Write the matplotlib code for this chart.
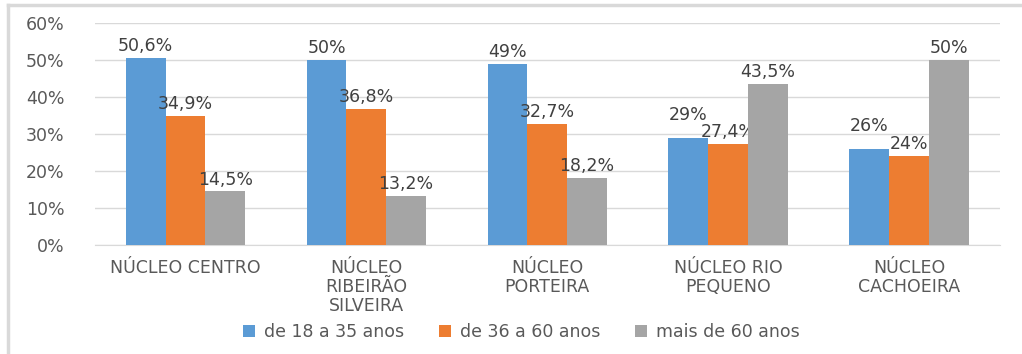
import matplotlib.pyplot as plt
from matplotlib.lines import Line2D
import numpy as np

# dados por núcleo e faixa etária (%)
nucleos = ['NÚCLEO CENTRO', 'NÚCLEO\nRIBEIRÃO\nSILVEIRA', 'NÚCLEO\nPORTEIRA',
           'NÚCLEO RIO\nPEQUENO', 'NÚCLEO\nCACHOEIRA']
faixa_18_35 = [50.6, 50, 49, 29, 26]
faixa_36_60 = [34.9, 36.8, 32.7, 27.4, 24]
faixa_60_mais = [14.5, 13.2, 18.2, 43.5, 50]
rotulos_18_35 = ['50,6%', '50%', '49%', '29%', '26%']
rotulos_36_60 = ['34,9%', '36,8%', '32,7%', '27,4%', '24%']
rotulos_60_mais = ['14,5%', '13,2%', '18,2%', '43,5%', '50%']
legendas = ['de 18 a 35 anos', 'de 36 a 60 anos', 'mais de 60 anos']

cores = ['#5B9BD5', '#ED7D31', '#A5A5A5']
cor_texto = '#595959'
fs = 12.5

plt.rcParams['font.family'] = 'DejaVu Sans'

fig = plt.figure(figsize=(10.22, 3.54), dpi=100)
ax = fig.add_axes([0.093, 0.308, 0.885, 0.627])

x = np.arange(len(nucleos))
w = 0.22
series = [faixa_18_35, faixa_36_60, faixa_60_mais]
rotulos = [rotulos_18_35, rotulos_36_60, rotulos_60_mais]
for i, (vals, labs) in enumerate(zip(series, rotulos)):
    pos = x + (i - 1) * w
    ax.bar(pos, vals, width=w, color=cores[i], label=legendas[i], zorder=3)
    for j, (px, v, t) in enumerate(zip(pos, vals, labs)):
        dy = 2
        # sobe o rótulo azul quando encosta no laranja ao lado
        if i == 0 and v - faixa_36_60[j] < 5:
            dy = 10
        ax.annotate(t, (px, v), xytext=(0, dy), textcoords='offset points',
                    ha='center', va='bottom', fontsize=fs, color='#404040')

ax.set_xlim(-0.5, 4.5)
ax.set_ylim(0, 60)
ax.set_yticks(range(0, 61, 10))
ax.set_yticklabels([f'{v}%' for v in range(0, 61, 10)])
ax.set_xticks(x)
ax.set_xticklabels(nucleos, linespacing=1.07)
ax.tick_params(axis='y', length=0, pad=22, labelsize=fs, labelcolor=cor_texto)
ax.tick_params(axis='x', length=0, pad=10, labelsize=fs, labelcolor=cor_texto)
ax.grid(axis='y', color='#D9D9D9', linewidth=1, zorder=0)
for s in ['top', 'right', 'left']:
    ax.spines[s].set_visible(False)
ax.spines['bottom'].set_color('#D9D9D9')

leg = fig.legend(loc='center', bbox_to_anchor=(0.51, 0.063), ncol=3, frameon=False,
                 fontsize=fs, handlelength=0.7, handleheight=0.7,
                 columnspacing=2.0, handletextpad=0.5)
for t in leg.get_texts():
    t.set_color(cor_texto)

# moldura cinza (esquerda e topo)
fig.add_artist(Line2D([8 / 1022, 8 / 1022], [0, 1 - 5 / 354], color='#D9D9D9', linewidth=2.5))
fig.add_artist(Line2D([8 / 1022, 1], [1 - 5 / 354, 1 - 5 / 354], color='#D9D9D9', linewidth=2.5))

fig.savefig('out.png', dpi=100)
